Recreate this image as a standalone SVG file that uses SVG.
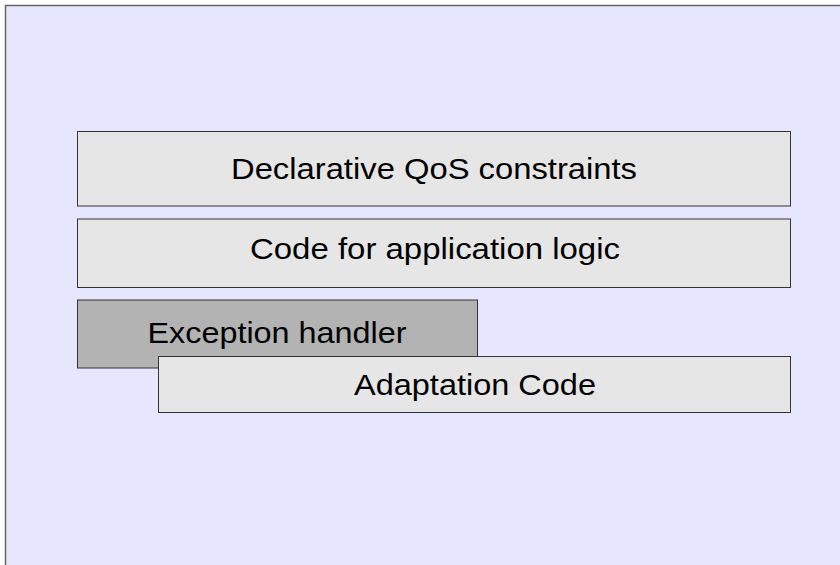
<svg xmlns="http://www.w3.org/2000/svg" width="840" height="565" viewBox="0 0 840 565">
<style>
.box{fill:#e6e6e6;stroke:#333333;stroke-width:1}
.dark{fill:#b3b3b3;stroke:#333333;stroke-width:1}
.lbl{font-family:"Liberation Sans",Arial,sans-serif;font-size:30px;fill:#000000;text-anchor:middle}
</style>
<rect x="0" y="0" width="840" height="565" fill="#ffffff"/>
<rect id="frame" x="5.5" y="5.5" width="850" height="600" fill="#e6e6ff" stroke="#666666" stroke-width="1.5"/>
<g id="declarative">
<rect class="box" x="77.5" y="131.5" width="713" height="74.5"/>
<text class="lbl" x="434" y="179" textLength="406" lengthAdjust="spacingAndGlyphs">Declarative QoS constraints</text>
</g>
<g id="applogic">
<rect class="box" x="77.5" y="219" width="713" height="68.5"/>
<text class="lbl" x="435" y="258.5" textLength="370" lengthAdjust="spacingAndGlyphs">Code for application logic</text>
</g>
<g id="exception">
<rect class="dark" x="77.5" y="300" width="400" height="68"/>
<text class="lbl" x="277" y="342.5" textLength="259" lengthAdjust="spacingAndGlyphs">Exception handler</text>
</g>
<g id="adaptation">
<rect class="box" x="158.5" y="356.5" width="632" height="56"/>
<text class="lbl" x="475" y="395" textLength="242" lengthAdjust="spacingAndGlyphs">Adaptation Code</text>
</g>
<g id="connectors"></g>
</svg>
